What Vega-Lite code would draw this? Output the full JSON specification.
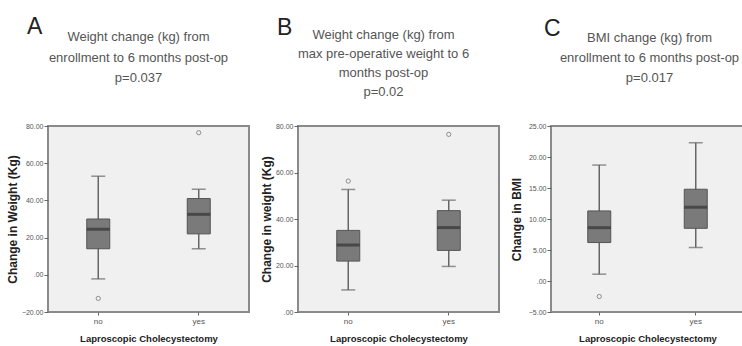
{
  "$schema": "https://vega.github.io/schema/vega-lite/v6.json",
  "background": "white",
  "padding": {"left": 5, "top": 16, "right": 0, "bottom": 0},
  "datasets": {
    "boxes": [
      {"panel": "A", "group": "no", "lower": -2.2, "q1": 14, "median": 24.5, "q3": 30, "upper": 53},
      {"panel": "A", "group": "yes", "lower": 14, "q1": 22, "median": 32.5, "q3": 41, "upper": 46},
      {"panel": "B", "group": "no", "lower": 9.5, "q1": 21.9, "median": 28.8, "q3": 35.1, "upper": 52.7},
      {"panel": "B", "group": "yes", "lower": 19.6, "q1": 26.5, "median": 36.3, "q3": 43.6, "upper": 48.1},
      {"panel": "C", "group": "no", "lower": 1.1, "q1": 6.2, "median": 8.6, "q3": 11.3, "upper": 18.7},
      {"panel": "C", "group": "yes", "lower": 5.4, "q1": 8.5, "median": 11.9, "q3": 14.8, "upper": 22.3}
    ],
    "outliers": [
      {"panel": "A", "group": "no", "value": -12.7},
      {"panel": "A", "group": "yes", "value": 76.4},
      {"panel": "B", "group": "no", "value": 56.3},
      {"panel": "B", "group": "yes", "value": 76.4},
      {"panel": "C", "group": "no", "value": -2.5}
    ]
  },
  "config": {
    "font": "Liberation Sans",
    "view": {"fill": "#f0f0f0", "stroke": "#8a8a8a", "strokeWidth": 2},
    "concat": {"spacing": 9},
    "axisY": {
      "grid": false, "domain": false, "tickColor": "#666", "tickSize": 4, "labelPadding": 1,
      "labelFontSize": 7, "labelColor": "#555", "titleFontSize": 12, "titleFontWeight": "bold",
      "titleColor": "#222", "titlePadding": 2, "labelOverlap": false, "labelBound": false, "labelFlush": false,
      "tickCount": 20
    },
    "axisX": {
      "grid": false, "domain": false, "tickColor": "#666", "tickSize": 3, "labelAngle": 0,
      "labelFontSize": 8, "labelColor": "#555", "titleFontSize": 9.5, "titleFontWeight": "bold",
      "titleColor": "#222", "titlePadding": 8, "labelPadding": 2
    },
    "title": {"fontSize": 13, "fontWeight": "normal", "color": "#555", "lineHeight": 20.5, "anchor": "middle", "frame": "group"}
  },
  "hconcat": [
    {
      "title": {"text": "A", "fontSize": 23, "color": "#222", "anchor": "start", "frame": "group", "offset": -9, "dx": -21},
      "vconcat": [
        {
          "width": 201, "height": 186,
          "title": {"text": ["Weight change (kg) from", "enrollment to 6 months post-op", "p=0.037"], "offset": 37, "dx": -10},
          "layer": [
            {
              "data": {"name": "boxes"}, "transform": [{"filter": "datum.panel == 'A'"}],
              "encoding": {
                "x": {"field": "group", "type": "nominal", "scale": {"domain": ["no", "yes"], "paddingInner": 0, "paddingOuter": 0}, "title": "Laproscopic Cholecystectomy"},
                "y": {"type": "quantitative", "scale": {"domain": [-20, 80], "nice": false, "zero": false},
                  "axis": {"values": [-20, 0, 20, 40, 60, 80], "tickCount": 20, "labelOverlap": false, "labelExpr": "datum.value == 0 ? '.00' : format(datum.value, '.2f')"}, "title": "Change in Weight (Kg)"}
              },
              "layer": [
                {"mark": {"type": "rule", "color": "#666", "strokeWidth": 1.5}, "encoding": {"y": {"field": "lower", "type": "quantitative"}, "y2": {"field": "upper"}}},
                {"mark": {"type": "tick", "color": "#666", "size": 14, "thickness": 1.5}, "encoding": {"y": {"field": "lower", "type": "quantitative"}}},
                {"mark": {"type": "tick", "color": "#666", "size": 14, "thickness": 1.5}, "encoding": {"y": {"field": "upper", "type": "quantitative"}}},
                {"mark": {"type": "bar", "width": 23, "fill": "#7a7a7a", "stroke": "#555", "strokeWidth": 1}, "encoding": {"y": {"field": "q1", "type": "quantitative"}, "y2": {"field": "q3"}}},
                {"mark": {"type": "tick", "color": "#333", "size": 23, "thickness": 3}, "encoding": {"y": {"field": "median", "type": "quantitative"}}}
              ]
            },
            {
              "data": {"name": "outliers"}, "transform": [{"filter": "datum.panel == 'A'"}],
              "mark": {"type": "point", "shape": "circle", "filled": false, "size": 18, "stroke": "#666", "strokeWidth": 1},
              "encoding": {"x": {"field": "group", "type": "nominal"}, "y": {"field": "value", "type": "quantitative"}}
            }
          ]
        }
      ]
    },
    {
      "title": {"text": "B", "fontSize": 23, "color": "#222", "anchor": "start", "frame": "group", "offset": -12, "dx": -21},
      "vconcat": [
        {
          "width": 201, "height": 186,
          "title": {"text": ["Weight change (kg) from", "max pre-operative weight to 6", "months post-op", "p=0.02"], "offset": 23, "dx": -15, "lineHeight": 19},
          "layer": [
            {
              "data": {"name": "boxes"}, "transform": [{"filter": "datum.panel == 'B'"}],
              "encoding": {
                "x": {"field": "group", "type": "nominal", "scale": {"domain": ["no", "yes"], "paddingInner": 0, "paddingOuter": 0}, "title": "Laproscopic Cholecystectomy"},
                "y": {"type": "quantitative", "scale": {"domain": [0, 80], "nice": false, "zero": false},
                  "axis": {"values": [0, 20, 40, 60, 80], "tickCount": 20, "labelOverlap": false, "labelExpr": "datum.value == 0 ? '.00' : format(datum.value, '.2f')"}, "title": "Change in weight (Kg)"}
              },
              "layer": [
                {"mark": {"type": "rule", "color": "#666", "strokeWidth": 1.5}, "encoding": {"y": {"field": "lower", "type": "quantitative"}, "y2": {"field": "upper"}}},
                {"mark": {"type": "tick", "color": "#666", "size": 14, "thickness": 1.5}, "encoding": {"y": {"field": "lower", "type": "quantitative"}}},
                {"mark": {"type": "tick", "color": "#666", "size": 14, "thickness": 1.5}, "encoding": {"y": {"field": "upper", "type": "quantitative"}}},
                {"mark": {"type": "bar", "width": 23, "fill": "#7a7a7a", "stroke": "#555", "strokeWidth": 1}, "encoding": {"y": {"field": "q1", "type": "quantitative"}, "y2": {"field": "q3"}}},
                {"mark": {"type": "tick", "color": "#333", "size": 23, "thickness": 3}, "encoding": {"y": {"field": "median", "type": "quantitative"}}}
              ]
            },
            {
              "data": {"name": "outliers"}, "transform": [{"filter": "datum.panel == 'B'"}],
              "mark": {"type": "point", "shape": "circle", "filled": false, "size": 18, "stroke": "#666", "strokeWidth": 1},
              "encoding": {"x": {"field": "group", "type": "nominal"}, "y": {"field": "value", "type": "quantitative"}}
            }
          ]
        }
      ]
    },
    {
      "title": {"text": "C", "fontSize": 23, "color": "#222", "anchor": "start", "frame": "group", "offset": -10, "dx": -7},
      "vconcat": [
        {
          "width": 193, "height": 186,
          "title": {"text": ["BMI change (kg) from", "enrollment to 6 months post-op", "p=0.017"], "offset": 37, "dx": 2, "lineHeight": 20},
          "layer": [
            {
              "data": {"name": "boxes"}, "transform": [{"filter": "datum.panel == 'C'"}],
              "encoding": {
                "x": {"field": "group", "type": "nominal", "scale": {"domain": ["no", "yes"], "paddingInner": 0, "paddingOuter": 0}, "title": "Laproscopic Cholecystectomy"},
                "y": {"type": "quantitative", "scale": {"domain": [-5, 25], "nice": false, "zero": false},
                  "axis": {"values": [-5, 0, 5, 10, 15, 20, 25], "tickCount": 20, "titlePadding": 5, "labelOverlap": false, "labelExpr": "datum.value == 0 ? '.00' : format(datum.value, '.2f')"}, "title": "Change in BMI"}
              },
              "layer": [
                {"mark": {"type": "rule", "color": "#666", "strokeWidth": 1.5}, "encoding": {"y": {"field": "lower", "type": "quantitative"}, "y2": {"field": "upper"}}},
                {"mark": {"type": "tick", "color": "#666", "size": 14, "thickness": 1.5}, "encoding": {"y": {"field": "lower", "type": "quantitative"}}},
                {"mark": {"type": "tick", "color": "#666", "size": 14, "thickness": 1.5}, "encoding": {"y": {"field": "upper", "type": "quantitative"}}},
                {"mark": {"type": "bar", "width": 23, "fill": "#7a7a7a", "stroke": "#555", "strokeWidth": 1}, "encoding": {"y": {"field": "q1", "type": "quantitative"}, "y2": {"field": "q3"}}},
                {"mark": {"type": "tick", "color": "#333", "size": 23, "thickness": 3}, "encoding": {"y": {"field": "median", "type": "quantitative"}}}
              ]
            },
            {
              "data": {"name": "outliers"}, "transform": [{"filter": "datum.panel == 'C'"}],
              "mark": {"type": "point", "shape": "circle", "filled": false, "size": 18, "stroke": "#666", "strokeWidth": 1},
              "encoding": {"x": {"field": "group", "type": "nominal"}, "y": {"field": "value", "type": "quantitative"}}
            }
          ]
        }
      ]
    }
  ]
}
